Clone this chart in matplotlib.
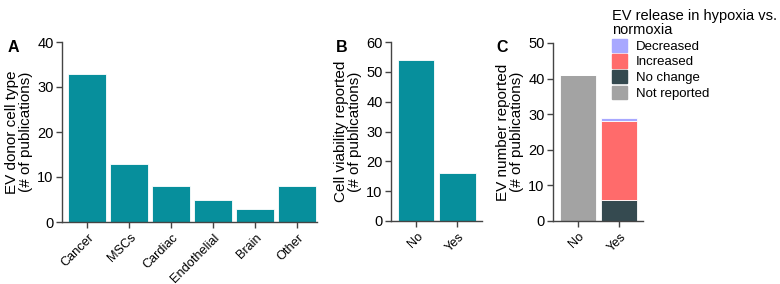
import numpy as np
import matplotlib
matplotlib.use("Agg")
import matplotlib.pyplot as plt
import matplotlib.transforms as mtransforms
from matplotlib.patches import Patch

plt.rcParams['font.family'] = ['Liberation Sans', 'DejaVu Sans']
plt.rcParams['font.size'] = 10

# panel A
cell_types = ['Cancer', 'MSCs', 'Cardiac', 'Endothelial', 'Brain', 'Other']
cell_counts = [33, 13, 8, 5, 3, 8]
# panel B
viab_labels = ['No', 'Yes']
viab_counts = [54, 16]
# panel C
num_labels = ['No', 'Yes']
not_reported = [41, 0]
no_change = [0, 6]
increased = [0, 22]
decreased = [0, 1]

teal = '#078f9c'
c_dec = '#a8a8ff'
c_inc = '#ff6b6b'
c_noch = '#354a50'
c_nr = '#a3a3a3'
spine_col = '#444444'

fig = plt.figure(figsize=(7.8, 2.84), dpi=100)
W, H = 780, 284
shift = mtransforms.ScaledTranslation(0.05, 0, fig.dpi_scale_trans)

def add_ax(x0, x1, ytop, ybot):
    return fig.add_axes([x0 / W, 1 - ybot / H, (x1 - x0) / W, (ybot - ytop) / H])

def style(ax, ymax, step, labels):
    for s in ['top', 'right']:
        ax.spines[s].set_visible(False)
    for s in ['left', 'bottom']:
        ax.spines[s].set_color(spine_col)
        ax.spines[s].set_linewidth(1.0)
    ax.set_ylim(0, ymax)
    ax.set_yticks(np.arange(0, ymax + 1, step))
    ax.tick_params(colors=spine_col, labelcolor='black', length=4, width=1.0)
    ax.tick_params(axis='y', pad=2, labelsize=10.5)
    ax.set_xticks(np.arange(len(labels)))
    ax.set_xticklabels(labels, rotation=45, ha='right', va='center', rotation_mode='anchor')
    ax.tick_params(axis='x', pad=6, labelsize=9.2)
    for t in ax.get_xticklabels():
        t.set_transform(t.get_transform() + shift)

# A
axA = add_ax(62, 317, 42, 222)
xA = np.arange(len(cell_types))
axA.bar(xA, cell_counts, width=0.9, color=teal, edgecolor='white', linewidth=0.6)
axA.set_xlim(-0.6, len(cell_types) - 0.52)
style(axA, 40, 10, cell_types)
axA.set_ylabel('EV donor cell type\n(# of publications)', fontsize=11, labelpad=3, linespacing=1.0)

# B
axB = add_ax(391, 482, 42, 221)
xB = np.arange(len(viab_labels))
axB.bar(xB, viab_counts, width=0.88, color=teal, edgecolor='white', linewidth=0.6)
axB.set_xlim(-0.6, 1.59)
style(axB, 60, 10, viab_labels)
axB.set_ylabel('Cell viability reported\n(# of publications)', fontsize=11, labelpad=3, linespacing=1.0)

# C
axC = add_ax(553, 643, 43, 221)
xC = np.arange(len(num_labels))
nr = np.array(not_reported)
nc = np.array(no_change)
inc = np.array(increased)
dec = np.array(decreased)
kw = dict(width=0.88, edgecolor='white', linewidth=0.6)
axC.bar(xC, nr, color=c_nr, **kw)
axC.bar(xC, nc, bottom=nr, color=c_noch, **kw)
axC.bar(xC, inc, bottom=nr + nc, color=c_inc, **kw)
axC.bar(xC, dec, bottom=nr + nc + inc, color=c_dec, **kw)
axC.set_xlim(-0.6, 1.58)
style(axC, 50, 10, num_labels)
axC.set_ylabel('EV number reported\n(# of publications)', fontsize=11, labelpad=3, linespacing=1.0)

handles = [Patch(color=c_dec, label='Decreased'),
           Patch(color=c_inc, label='Increased'),
           Patch(color=c_noch, label='No change'),
           Patch(color=c_nr, label='Not reported')]
leg = fig.legend(handles=handles, loc='upper left', bbox_to_anchor=(603 / W, 1 - 0 / H),
                 title='EV release in hypoxia vs.\nnormoxia', frameon=False,
                 fontsize=9.5, title_fontsize=10.5, handlelength=1.1, handleheight=1.15,
                 handletextpad=0.7, labelspacing=0.12, borderpad=0.2)
leg._legend_box.align = 'left'
leg.get_title().set_linespacing(1.0)

for lab, x in [('A', 8), ('B', 336), ('C', 496)]:
    fig.text(x / W, 1 - 47 / H, lab, fontsize=11.5, fontweight='bold', va='center', ha='left')

fig.savefig('out.png', dpi=100)
